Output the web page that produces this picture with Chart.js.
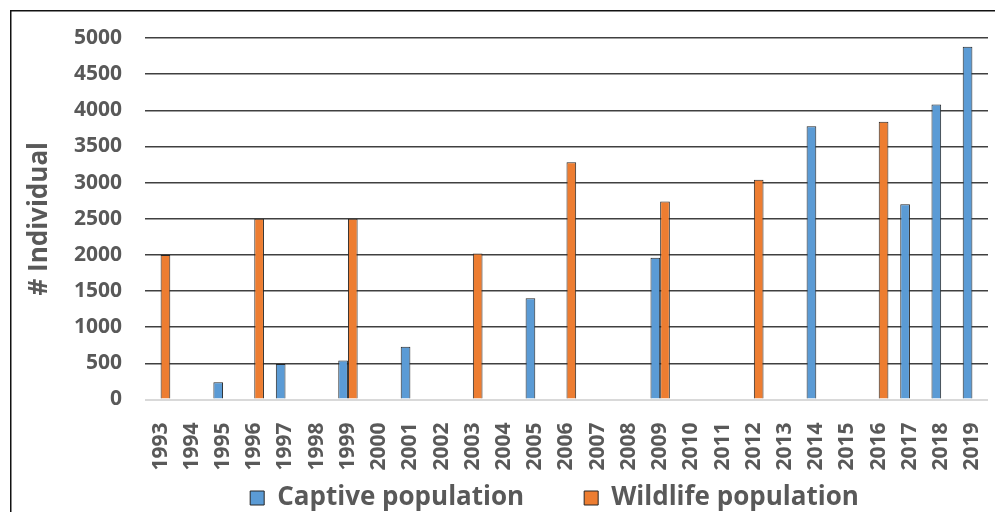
<!DOCTYPE html>
<html><head><meta charset="utf-8">
<script src="https://cdn.jsdelivr.net/npm/chart.js@4"></script>
<style>html,body{margin:0;padding:0;background:#fff;overflow:hidden}#wrap{width:995px;height:512px;position:relative}</style>
</head><body><div id="wrap"><canvas id="c" width="995" height="512"></canvas></div>
<script>
const years = ['1993','1994','1995','1996','1997','1998','1999','2000','2001','2002','2003','2004','2005','2006','2007','2008','2009','2010','2011','2012','2013','2014','2015','2016','2017','2018','2019'];
const captive = [null,null,240,null,490,null,540,null,730,null, null,null,1400,null,null,null,1960,null,null,null, null,3780,null,null,2700,4080,4880];
const wildlife = [2000,null,null,2500,null,null,2500,null,null,null, 2020,null,null,3280,null,null,2740,null,null,3040, null,null,null,3840,null,null,null];
const yTicks = [0,500,1000,1500,2000,2500,3000,3500,4000,4500,5000];

const FONT = 'Open Sans';
const framePlugin = {
  id: 'frame',
  beforeDraw(chart) {
    const ctx = chart.ctx;
    ctx.save();
    ctx.fillStyle = '#fff';
    ctx.fillRect(0, 0, chart.width, chart.height);
    ctx.strokeStyle = '#111';
    ctx.lineWidth = 1.5;
    ctx.beginPath();
    ctx.moveTo(10.75, chart.height);
    ctx.lineTo(10.75, 10.75);
    ctx.lineTo(chart.width, 10.75);
    ctx.stroke();
    ctx.restore();
  },
  afterLayout(chart) {
    // let x labels extend below the reserved box and place legend row
    const xs = chart.scales.x;
    xs.bottom = chart.height;
    const lg = chart.legend;
    if (lg) {
      const h = lg.bottom - lg.top;
      lg.top = 498 - 13 - lg.options.labels.padding;
      lg.bottom = lg.top + h;
      lg.left = 133;
      lg.right = 976;
      lg.width = lg.right - lg.left;
    }
  }
};

new Chart(document.getElementById('c'), {
  type: 'bar',
  data: {
    labels: years,
    datasets: [
      { label: 'Captive population', data: captive, backgroundColor: '#5b9bd5', borderColor: '#262626', borderWidth: 1 },
      { label: 'Wildlife population', data: wildlife, backgroundColor: '#ed7d31', borderColor: '#262626', borderWidth: 1 }
    ]
  },
  options: {
    responsive: false,
    animation: false,
    devicePixelRatio: 1,
    categoryPercentage: 0.62,
    barPercentage: 1,
    layout: { padding: { left: 0, right: 7, top: 38, bottom: 0 } },
    scales: {
      x: {
        grid: { display: false },
        border: { display: false },
        ticks: { minRotation: 90, maxRotation: 90, autoSkip: false, padding: 15, color: '#595959', font: { family: FONT, weight: 'bold', size: 21 } },
        afterFit(s) { s.height = 16.5; s.paddingLeft = 0; s.paddingRight = 0; }
      },
      y: {
        min: 0, max: 5000,
        afterBuildTicks(s) { s.ticks = yTicks.map(v => ({ value: v })); },
        ticks: { padding: 23, color: '#595959', font: { family: FONT, weight: 'bold', size: 21 }, callback: v => String(v) },
        grid: {
          drawTicks: false,
          color: c => (c.tick && c.tick.value === 0) ? '#d9d9d9' : '#404040',
          lineWidth: c => (c.tick && c.tick.value === 0) ? 2 : 1.5
        },
        border: { display: false },
        title: { display: true, text: '# Individual', color: '#595959', font: { family: FONT, weight: 'bold', size: 26 }, padding: { top: 24, bottom: 0 } },
        afterFit(s) { s.width = 145; s.paddingTop = 0; s.paddingBottom = 0; }
      }
    },
    plugins: {
      legend: {
        position: 'bottom',
        fullSize: false,
        labels: { boxWidth: 14, boxHeight: 14, padding: 60, color: '#595959', font: { family: FONT, weight: 'bold', size: 26 } }
      },
      tooltip: { enabled: false }
    }
  },
  plugins: [framePlugin]
});
</script>
</body></html>
